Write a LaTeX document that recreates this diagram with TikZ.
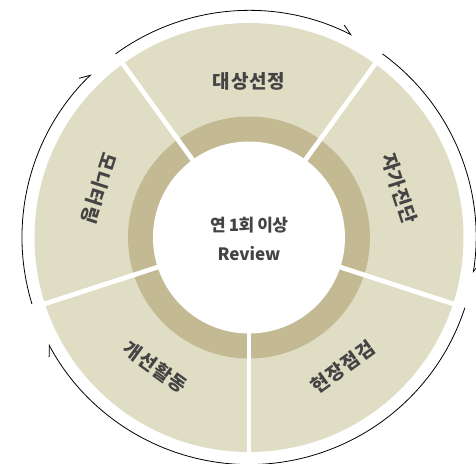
\documentclass[tikz,border=0pt]{standalone}
\usepackage{fontspec}
\setmainfont{Noto Sans CJK KR}
\newfontfamily\stepfont{Noto Sans CJK KR}[LetterSpace=5]
\newfontfamily\hubfont{Noto Sans CJK KR}[LetterSpace=-4]
\usetikzlibrary{arrows.meta}
\definecolor{segbeige}{HTML}{DFDDC4}
\definecolor{ringtan}{HTML}{C3BA94}
\definecolor{labelgray}{HTML}{444444}

\begin{document}
\begin{tikzpicture}[x=1pt, y=1pt,
		steptext/.style={font=\stepfont\bfseries\fontsize{19}{19}\selectfont, text=labelgray, inner sep=0pt},
		hubtext/.style={font=\hubfont\bfseries\fontsize{17}{17}\selectfont, text=labelgray, inner sep=0pt},
		cyclearrow/.style={line width=0.8pt, -{Straight Barb[left, length=10pt, width=11pt]}}]
	\useasboundingbox (-249,-225.5) rectangle (227,237.5);
	
	% wheel
	\fill[segbeige] (0,0) circle (214.5);
	\fill[ringtan] (0,0) circle (121);
	\fill[white] (0,0) circle (96);
	\foreach \a in {54, 126, 198, 270, 342}{
		\draw[white, line width=4.7pt] (\a:90) -- (\a:220);
	}
	
	% cycle arrows round the wheel
	\draw[cyclearrow] (197:227) arc [start angle=197, end angle=134, radius=227];
	\draw[cyclearrow] (126:227) arc [start angle=126, end angle=63, radius=227];
	\draw[cyclearrow] (54:227) arc [start angle=54, end angle=-9, radius=227];
	\draw[cyclearrow] (-18:227) arc [start angle=-18, end angle=-152, radius=227];
	
	% steps
	\node[steptext] (select) at (90:156) {대상선정};
	\node[steptext, rotate=-72] (selfcheck) at (18:158) {자가진단};
	\node[steptext, rotate=36] (onsite) at (306:160) {현장점검};
	\node[steptext, rotate=-36] (improve) at (234:160) {개선활동};
	\node[steptext, rotate=-108] (monitor) at (162:158) {모니터링};
	
	\node[hubtext] (yearly) at (0,12.5) {연 1회 이상};
	\node[steptext, font=\bfseries\fontsize{17}{17}\selectfont] (review) at (0,-15.8) {Review};
\end{tikzpicture}
\end{document}
